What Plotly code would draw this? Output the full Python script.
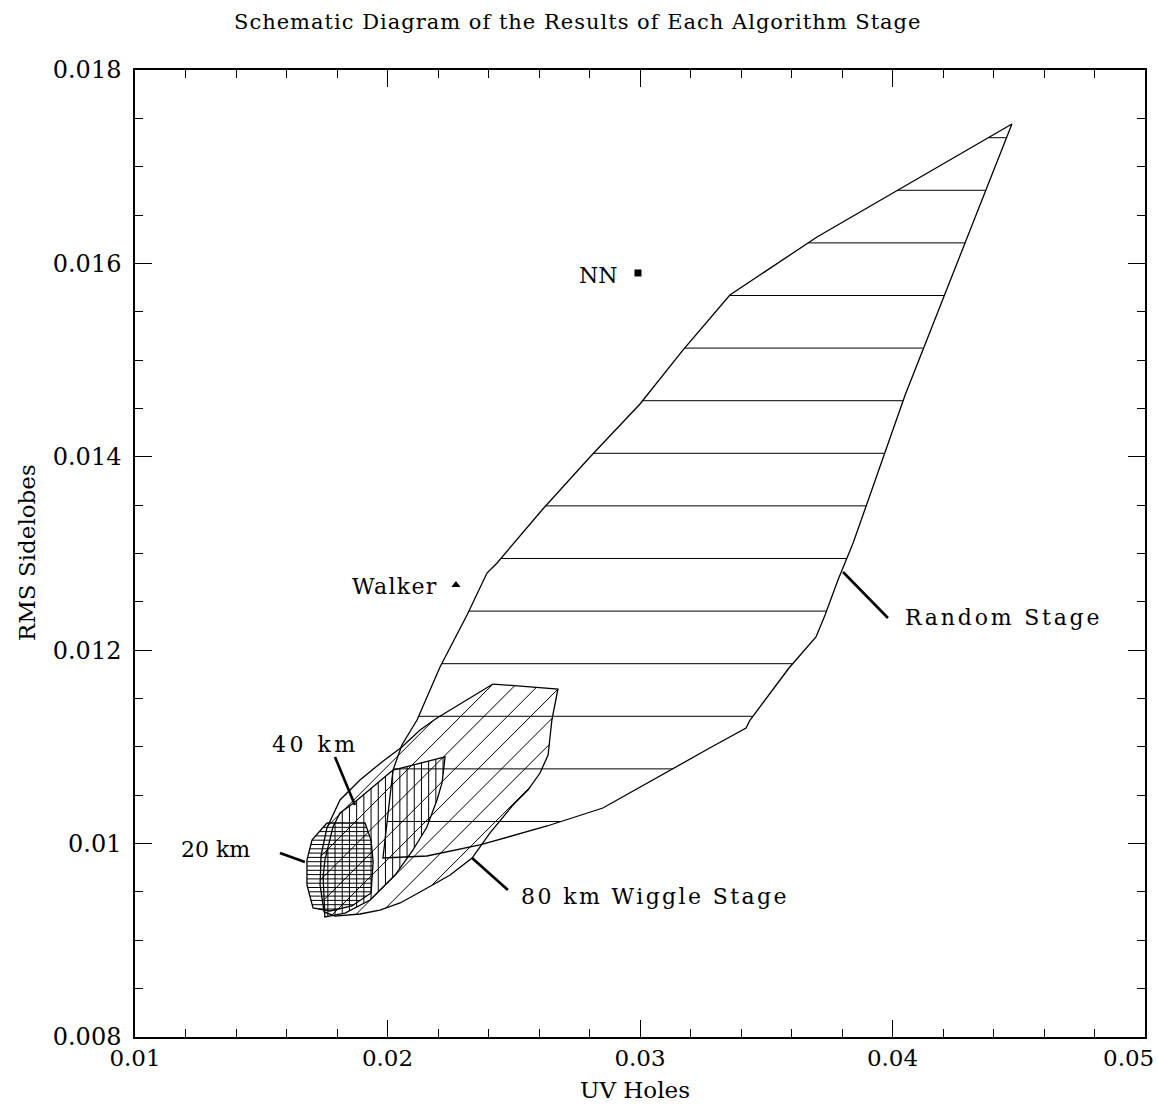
import plotly.graph_objects as go
import numpy as np

# ---------------- data ----------------
random_x = [0.04473, 0.04050, 0.03911, 0.03844, 0.03784, 0.03733, 0.03697, 0.03590, 0.03436, 0.03420,
            0.03269, 0.02853, 0.02632, 0.02366, 0.02156, 0.01982, 0.02022, 0.02057, 0.02117, 0.02208,
            0.02315, 0.02394, 0.02434, 0.02612, 0.02802, 0.03000, 0.03170, 0.03356, 0.03701, 0.04473]
random_y = [0.017442, 0.014639, 0.013605, 0.013109, 0.012726, 0.012364, 0.012137, 0.011816, 0.011278, 0.011195,
            0.010978, 0.010368, 0.010182, 0.009986, 0.009872, 0.009851, 0.010761, 0.011020, 0.011278, 0.011826,
            0.012364, 0.012798, 0.012902, 0.013450, 0.013998, 0.014546, 0.015104, 0.015673, 0.016273, 0.017442]

wig80_x = [0.02418, 0.02675, 0.02651, 0.02636, 0.02604, 0.02556, 0.02497, 0.02406, 0.02335, 0.02248,
           0.02129, 0.02050, 0.01970, 0.01891, 0.01792, 0.01749, 0.01733, 0.01737, 0.01760, 0.01812,
           0.01891, 0.01978, 0.02057, 0.02129, 0.02196, 0.02327, 0.02418]
wig80_y = [0.011650, 0.011599, 0.011278, 0.010916, 0.010730, 0.010554, 0.010399, 0.010110, 0.009851, 0.009675,
           0.009500, 0.009386, 0.009313, 0.009272, 0.009251, 0.009293, 0.009572, 0.009882, 0.010161, 0.010451,
           0.010658, 0.010844, 0.010999, 0.011175, 0.011299, 0.011506, 0.011650]

wig40_x = [0.02022, 0.02228, 0.02216, 0.02196, 0.02156, 0.02101, 0.02030, 0.01931, 0.01832, 0.01752,
           0.01745, 0.01752, 0.01784, 0.01812, 0.01871, 0.02022]
wig40_y = [0.010761, 0.010896, 0.010627, 0.010451, 0.010172, 0.009934, 0.009675, 0.009417, 0.009282, 0.009241,
           0.009655, 0.009830, 0.010172, 0.010316, 0.010430, 0.010761]

wig20_x = [0.01760, 0.01911, 0.01935, 0.01943, 0.01935, 0.01859, 0.01772, 0.01705, 0.01681, 0.01681,
           0.01701, 0.01760]
wig20_y = [0.010213, 0.010213, 0.010037, 0.009810, 0.009489, 0.009355, 0.009303, 0.009334, 0.009572, 0.009830,
           0.010037, 0.010213]

nn_x, nn_y = [0.02992], [0.015901]
walker_x, walker_y = [0.02271], [0.012674]

x_tickvals = [0.01, 0.02, 0.03, 0.04, 0.05]
x_ticktext = ["0.01", "0.02", "0.03", "0.04", "0.05"]
y_tickvals = [0.008, 0.010, 0.012, 0.014, 0.016, 0.018]
y_ticktext = ["0.008", "0.01", "0.012", "0.014", "0.016", "0.018"]

# label positions / pointer ends (data units)
random_ptr_x, random_ptr_y = [0.03804, 0.03982], [0.012809, 0.012333]
w80_ptr_x, w80_ptr_y = [0.02335, 0.02477], [0.009851, 0.009520]
w40_ptr_x, w40_ptr_y = [0.01792, 0.01871], [0.010896, 0.010399]
w20_ptr_x, w20_ptr_y = [0.01574, 0.01673], [0.009903, 0.009810]

# ---------------- layout constants ----------------
W, H = 1158, 1106
ML, MR, MT, MB = 135, 13, 70, 69
XR = [0.01, 0.05]
YR = [0.008, 0.018]
PW, PH = W - ML - MR, H - MT - MB
SX = PW / (XR[1] - XR[0])
SY = PH / (YR[1] - YR[0])


def hatch(px, py, angle_deg, spacing_px, anchor):
    """Clip a family of parallel lines (pixel-space angle/spacing) to a polygon."""
    u = (np.asarray(px) - XR[0]) * SX
    v = (np.asarray(py) - YR[0]) * SY
    th = np.radians(angle_deg)
    d = np.array([np.cos(th), np.sin(th)])
    n = np.array([-np.sin(th), np.cos(th)])
    au, av = (anchor[0] - XR[0]) * SX, (anchor[1] - YR[0]) * SY
    c_anchor = n[0] * au + n[1] * av
    s = n[0] * u + n[1] * v
    kmin = int(np.floor((s.min() - c_anchor) / spacing_px)) - 1
    kmax = int(np.ceil((s.max() - c_anchor) / spacing_px)) + 1
    xs, ys = [], []
    for k in range(kmin, kmax + 1):
        c = c_anchor + k * spacing_px
        pts = []
        for i in range(len(u) - 1):
            s1, s2 = s[i] - c, s[i + 1] - c
            if (s1 > 0) != (s2 > 0):
                t = s1 / (s1 - s2)
                iu = u[i] + t * (u[i + 1] - u[i])
                iv = v[i] + t * (v[i + 1] - v[i])
                pts.append((d[0] * iu + d[1] * iv, iu, iv))
        pts.sort()
        for j in range(0, len(pts) - 1, 2):
            for p in (pts[j], pts[j + 1]):
                xs.append(p[1] / SX + XR[0])
                ys.append(p[2] / SY + YR[0])
            xs.append(None)
            ys.append(None)
    return xs, ys


fig = go.Figure()
LINE = dict(color="black", width=1.3)
HLINE = dict(color="black", width=1)

hatch_specs = [
    (random_x, random_y, 0, 52.6, (0.03, 0.01730)),
    (wig80_x, wig80_y, 45, 16.5, (0.02418, 0.011650)),
    (wig40_x, wig40_y, 90, 7.2, (0.02220, 0.01)),
    (wig20_x, wig20_y, 0, 4.3, (0.018, 0.010213)),
]
for hx, hy, ang, sp, anc in hatch_specs:
    xs, ys = hatch(hx, hy, ang, sp, anc)
    fig.add_trace(go.Scatter(x=xs, y=ys, mode="lines", line=HLINE, hoverinfo="skip", showlegend=False))

for px, py in [(random_x, random_y), (wig80_x, wig80_y), (wig40_x, wig40_y), (wig20_x, wig20_y)]:
    fig.add_trace(go.Scatter(x=px, y=py, mode="lines", line=LINE, showlegend=False))

for lx, ly in [(random_ptr_x, random_ptr_y), (w80_ptr_x, w80_ptr_y), (w40_ptr_x, w40_ptr_y), (w20_ptr_x, w20_ptr_y)]:
    fig.add_trace(go.Scatter(x=lx, y=ly, mode="lines", line=dict(color="black", width=2.6), showlegend=False))

fig.add_trace(go.Scatter(x=nn_x, y=nn_y, mode="markers", marker=dict(symbol="square", size=7, color="black"),
                         showlegend=False))
fig.add_trace(go.Scatter(x=walker_x, y=walker_y, mode="markers",
                         marker=dict(symbol="triangle-up", size=8, color="black"), showlegend=False))

FONT = "DejaVu Serif"


def spaced(text, px):
    return '<span style="letter-spacing:%.1fpx">%s</span>' % (px, text)


TXT = dict(family=FONT, size=22, color="black")

annos = [
    dict(x=0.04042, y=0.012343, text=spaced("Random Stage", 2.8), xanchor="left", yanchor="middle"),
    dict(x=0.02521, y=0.009458, text=spaced("80 km Wiggle Stage", 2.4), xanchor="left", yanchor="middle"),
    dict(x=0.01713, y=0.01102, text=spaced("40 km", 3.5), xanchor="center", yanchor="middle"),
    dict(x=0.01317, y=0.009934, text="20 km", xanchor="center", yanchor="middle"),
    dict(x=0.02208, y=0.012654, text=spaced("Walker", 1.3), xanchor="right", yanchor="middle"),
    dict(x=0.02921, y=0.01588, text="NN", xanchor="right", yanchor="middle"),
]
for a in annos:
    a.update(xref="x", yref="y", showarrow=False, font=TXT)

# last x tick label drawn right-aligned so it stays inside the page (as in the reference)
shown_xtext = x_ticktext[:-1] + [""]
annos += [
    dict(x=(W - 2 - ML) / PW, y=(H - MB - 1058) / PH, xref="paper", yref="paper", text=x_ticktext[-1],
         showarrow=False, xanchor="right", yanchor="middle", font=dict(family=FONT, size=23, color="black")),
    dict(x=(578 - ML) / PW, y=(H - MB - 22) / PH, xref="paper", yref="paper",
         text=spaced("Schematic Diagram of the Results of Each Algorithm Stage", 1.0),
         showarrow=False, xanchor="center", yanchor="middle", font=dict(family=FONT, size=21, color="black")),
    dict(x=(635 - ML) / PW, y=(H - MB - 1090) / PH, xref="paper", yref="paper", text="UV Holes", showarrow=False,
         xanchor="center", yanchor="middle", font=dict(family=FONT, size=23, color="black")),
    dict(x=(27 - ML) / PW, y=(H - MB - 553) / PH, xref="paper", yref="paper", text="RMS Sidelobes",
         showarrow=False, textangle=-90,
         xanchor="center", yanchor="middle", font=dict(family=FONT, size=23, color="black")),
]

fig.update_layout(
    width=W, height=H,
    margin=dict(l=ML, r=MR, t=MT, b=MB, autoexpand=False),
    paper_bgcolor="white", plot_bgcolor="white",
    annotations=annos,
    showlegend=False,
)
AX = dict(showgrid=False, zeroline=False, showline=True, linecolor="black", linewidth=1.5, mirror="allticks",
          ticks="inside", ticklen=17, tickwidth=1.2, tickcolor="black", automargin=False)
fig.update_xaxes(range=XR, tickvals=x_tickvals, ticktext=shown_xtext,
                 tickfont=dict(family=FONT, size=23, color="black"),
                 minor=dict(ticks="inside", ticklen=8, dtick=0.002, tick0=0.01, tickcolor="black", tickwidth=1.2),
                 **AX)
fig.update_yaxes(range=YR, tickvals=y_tickvals, ticktext=y_ticktext, ticklabelstandoff=7,
                 tickfont=dict(family=FONT, size=24, color="black"),
                 minor=dict(ticks="inside", ticklen=8, dtick=0.0005, tick0=0.008, tickcolor="black", tickwidth=1.2),
                 **AX)

fig.write_html("out.html")
